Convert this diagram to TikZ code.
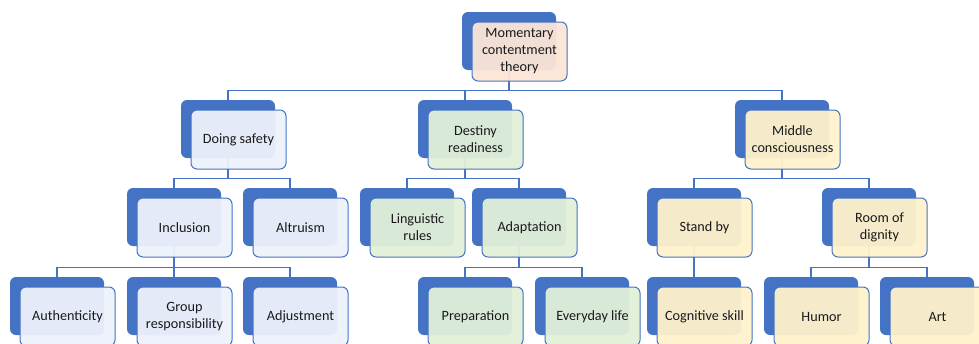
\documentclass[tikz,border=0pt]{standalone}
\usepackage{fontspec}
\setmainfont{Carlito}
\usepackage{xcolor}
\usepackage{tikz}
\usetikzlibrary{shapes,arrows,arrows.meta}

\definecolor{boxblue}{HTML}{4472C4}
\definecolor{textgray}{HTML}{1A1A1A}
\definecolor{peach}{HTML}{FBE5D6}
\definecolor{paleblue}{HTML}{EDF1FA}
\definecolor{palegreen}{HTML}{E2F0D9}
\definecolor{palegold}{HTML}{FFF2CC}

\begin{document}
\begin{tikzpicture}[x=1pt, y=-1pt]
		% Define the style for the boxes and links
		\tikzstyle{back}=[rectangle, rounded corners=6pt, fill=boxblue, minimum width=94pt, minimum height=58pt, inner sep=0pt]
		\tikzstyle{front}=[rectangle, rounded corners=6pt, draw=boxblue, line width=1pt, fill opacity=0.95, text opacity=1, minimum width=95pt, minimum height=59pt, inner sep=0pt, align=center, text=textgray, font=\fontsize{14.2}{17}\selectfont]
		\tikzstyle{link}=[draw=boxblue, line width=1.2pt]

		\path[use as bounding box, clip] (0,0) rectangle (979,343);

		% Define back nodes
		\node (top) [back] at (509,41) {};
		\node (safety) [back] at (228,129) {};
		\node (destiny) [back] at (465,129) {};
		\node (middle) [back] at (782,129) {};
		\node (inclusion) [back] at (174,217) {};
		\node (altruism) [back] at (290,217) {};
		\node (linguistic) [back] at (407,217) {};
		\node (adaptation) [back] at (519,217) {};
		\node (standby) [back] at (694,217) {};
		\node (dignity) [back] at (869,217) {};
		\node (authenticity) [back] at (57,306) {};
		\node (group) [back] at (174,306) {};
		\node (adjustment) [back] at (290,306) {};
		\node (preparation) [back] at (465,306) {};
		\node (everyday) [back] at (582,306) {};
		\node (cognitive) [back] at (694,306) {};
		\node (humor) [back] at (811,306) {};
		\node (art) [back] at (927,306) {};

		% Define links
		\draw[link] (top.south) -- ++(0,20) -| (safety.north);
		\draw[link] (top.south) -- ++(0,20) -| (destiny.north);
		\draw[link] (top.south) -- ++(0,20) -| (middle.north);

		\draw[link] (safety.south) -- ++(0,20) -| (inclusion.north);
		\draw[link] (safety.south) -- ++(0,20) -| (altruism.north);
		\draw[link] (destiny.south) -- ++(0,20) -| (linguistic.north);
		\draw[link] (destiny.south) -- ++(0,20) -| (adaptation.north);
		\draw[link] (middle.south) -- ++(0,20) -| (standby.north);
		\draw[link] (middle.south) -- ++(0,20) -| (dignity.north);

		\draw[link] (inclusion.south) -- ++(0,21) -| (authenticity.north);
		\draw[link] (inclusion.south) -- ++(0,21) -| (group.north);
		\draw[link] (inclusion.south) -- ++(0,21) -| (adjustment.north);
		\draw[link] (adaptation.south) -- ++(0,21) -| (preparation.north);
		\draw[link] (adaptation.south) -- ++(0,21) -| (everyday.north);
		\draw[link] (standby.south) -- (cognitive.north);
		\draw[link] (dignity.south) -- ++(0,21) -| (humor.north);
		\draw[link] (dignity.south) -- ++(0,21) -| (art.north);

		% Define front nodes
		\node (top-t) [front, fill=peach] at ([shift={(10.5,10.5)}]top) {Momentary\\contentment\\theory};
		\node (safety-t) [front, fill=paleblue] at ([shift={(10.5,10.5)}]safety) {Doing safety};
		\node (destiny-t) [front, fill=palegreen] at ([shift={(10.5,10.5)}]destiny) {Destiny\\readiness};
		\node (middle-t) [front, fill=palegold] at ([shift={(10.5,10.5)}]middle) {Middle\\consciousness};
		\node (inclusion-t) [front, fill=paleblue] at ([shift={(10.5,10.5)}]inclusion) {Inclusion};
		\node (altruism-t) [front, fill=paleblue] at ([shift={(10.5,10.5)}]altruism) {Altruism};
		\node (linguistic-t) [front, fill=palegreen] at ([shift={(10.5,10.5)}]linguistic) {Linguistic\\rules};
		\node (adaptation-t) [front, fill=palegreen] at ([shift={(10.5,10.5)}]adaptation) {Adaptation};
		\node (standby-t) [front, fill=palegold] at ([shift={(10.5,10.5)}]standby) {Stand by};
		\node (dignity-t) [front, fill=palegold] at ([shift={(10.5,10.5)}]dignity) {Room of\\dignity};
		\node (authenticity-t) [front, fill=paleblue] at ([shift={(10.5,10.5)}]authenticity) {Authenticity};
		\node (group-t) [front, fill=paleblue] at ([shift={(10.5,10.5)}]group) {Group\\responsibility};
		\node (adjustment-t) [front, fill=paleblue] at ([shift={(10.5,10.5)}]adjustment) {Adjustment};
		\node (preparation-t) [front, fill=palegreen] at ([shift={(10.5,10.5)}]preparation) {Preparation};
		\node (everyday-t) [front, fill=palegreen] at ([shift={(10.5,10.5)}]everyday) {Everyday life};
		\node (cognitive-t) [front, fill=palegold] at ([shift={(10.5,10.5)}]cognitive) {Cognitive skill};
		\node (humor-t) [front, fill=palegold] at ([shift={(10.5,10.5)}]humor) {Humor};
		\node (art-t) [front, fill=palegold] at ([shift={(10.5,10.5)}]art) {Art};
	\end{tikzpicture}
\end{document}
